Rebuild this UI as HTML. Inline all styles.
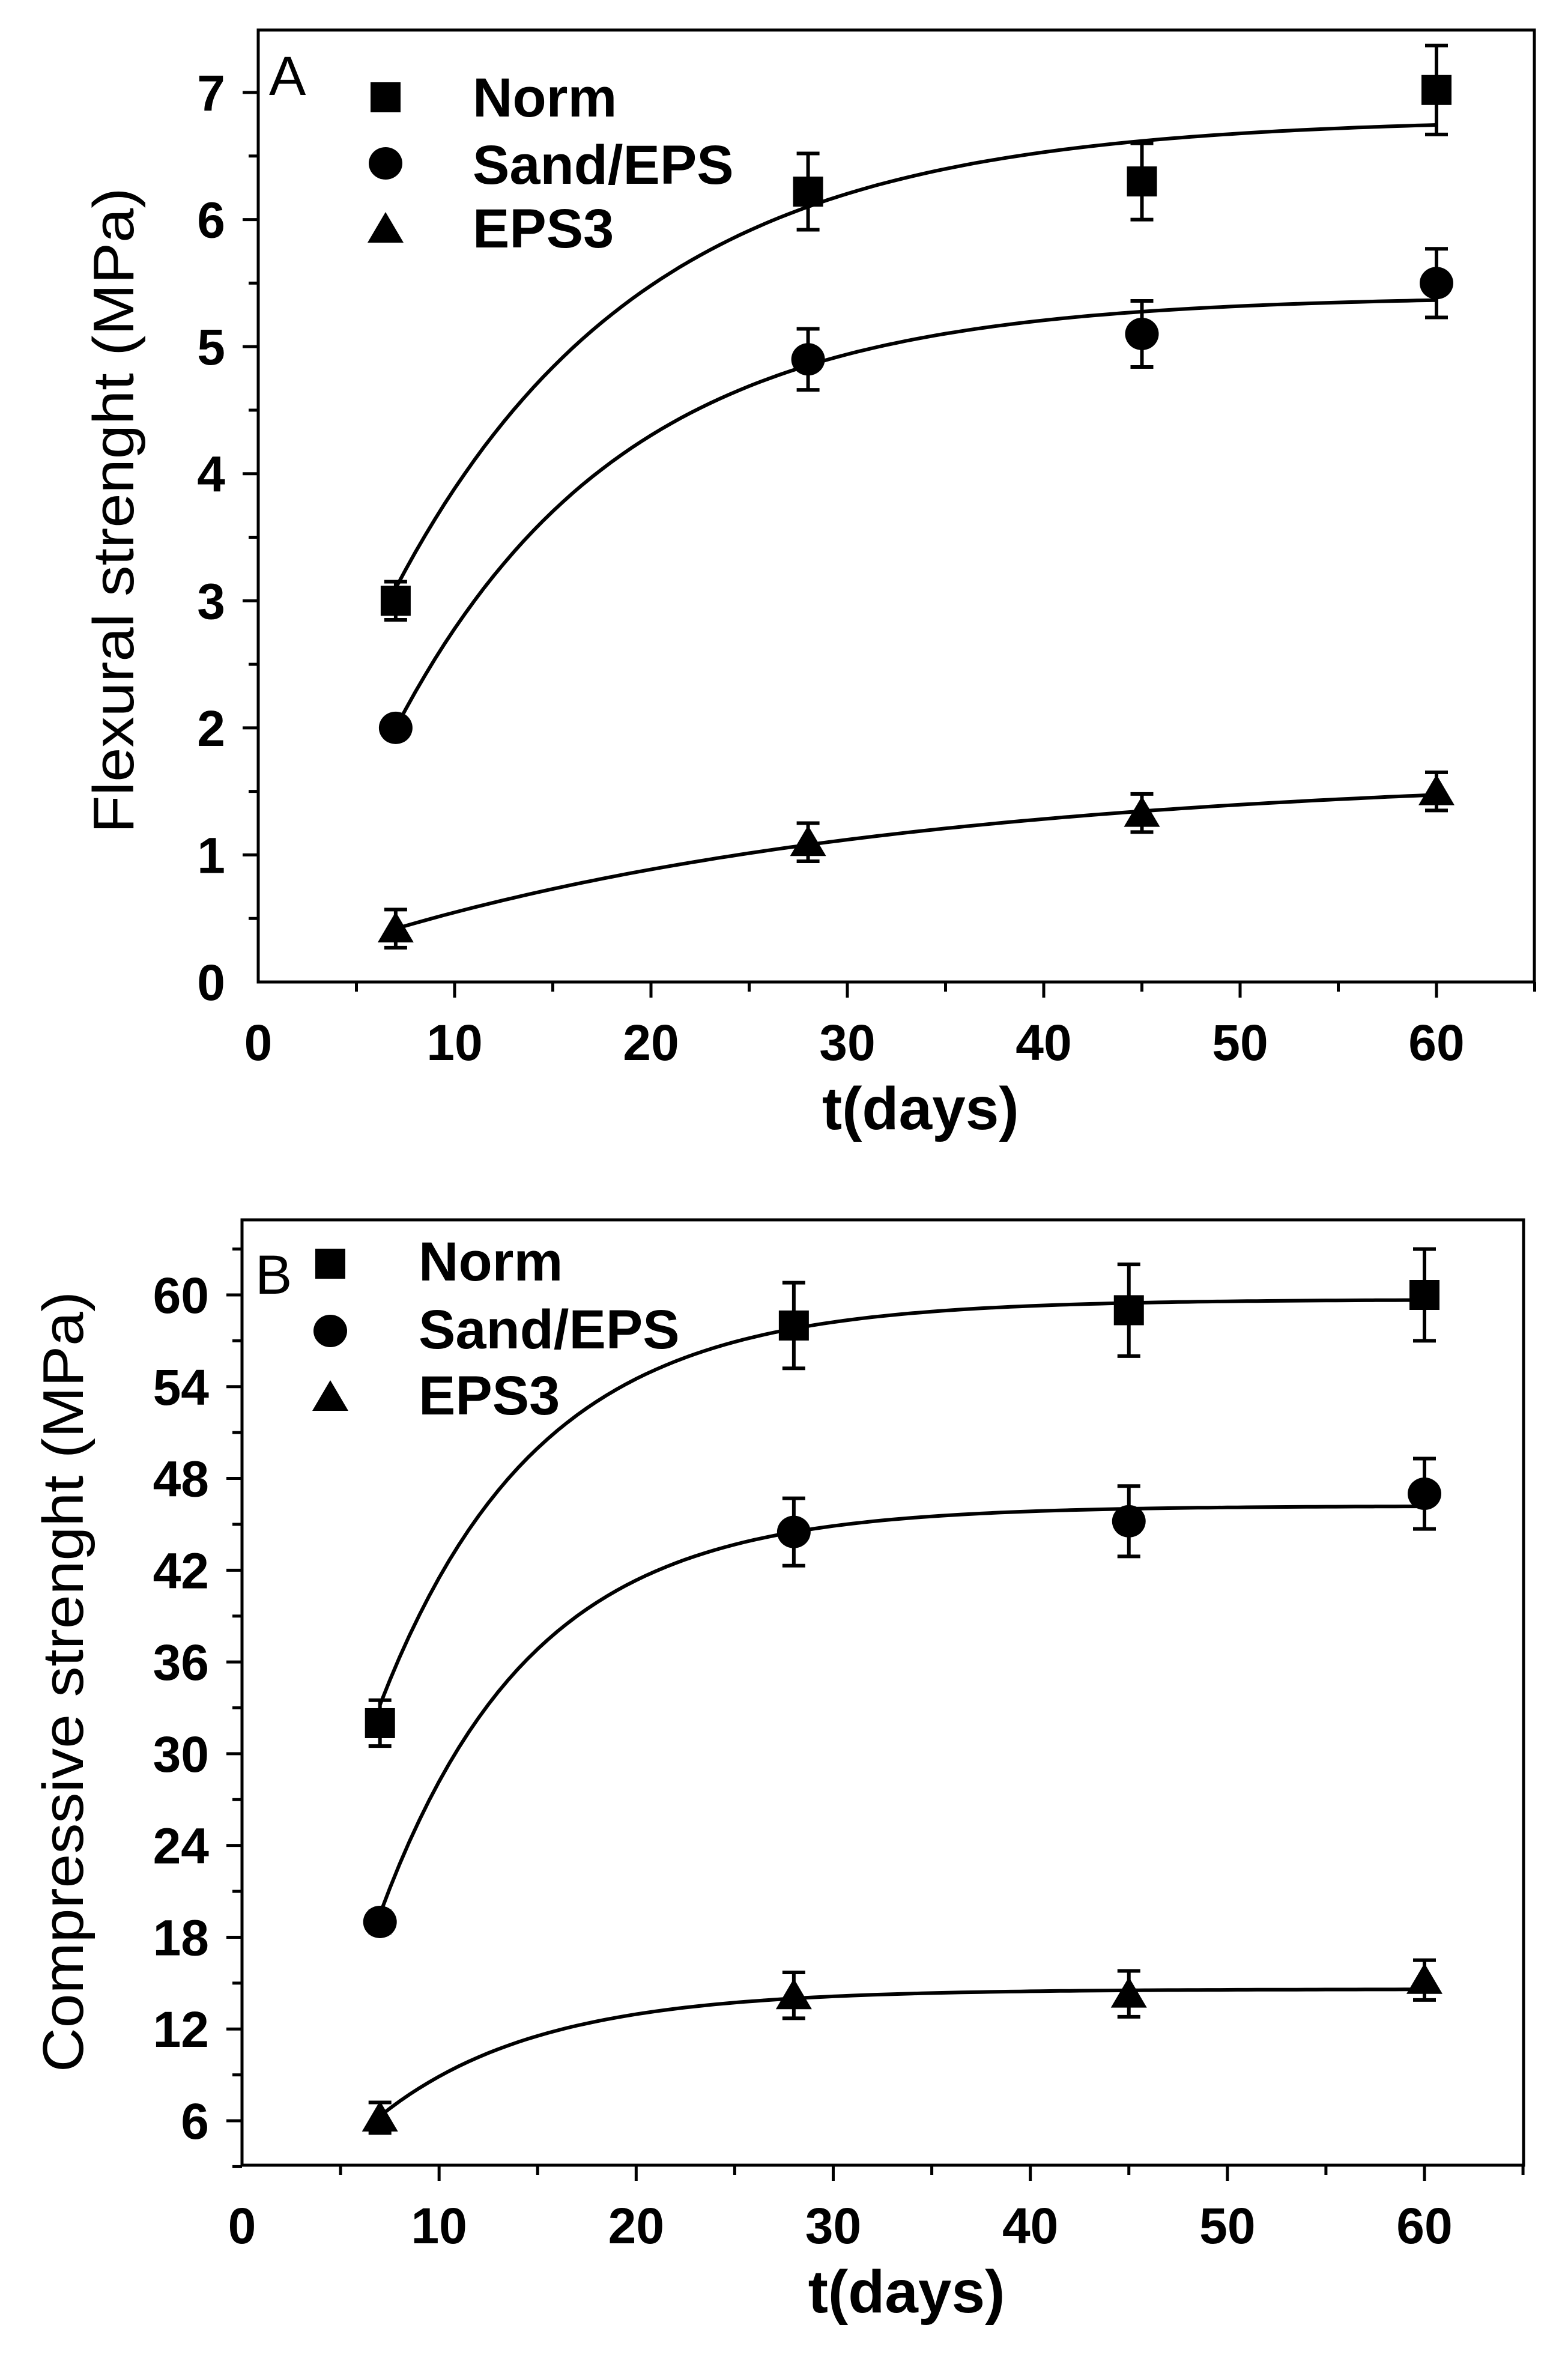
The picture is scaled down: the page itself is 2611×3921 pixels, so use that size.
<!DOCTYPE html>
<html><head><meta charset="utf-8"><style>
html,body{margin:0;padding:0;background:#fff;}
svg{display:block;font-family:"Liberation Sans",Arial,sans-serif;}
</style></head><body>
<svg id="svg" width="2611" height="3921" viewBox="0 0 2611 3921" xmlns="http://www.w3.org/2000/svg"></svg>
<script>
const NS='http://www.w3.org/2000/svg';
const days=[7,28,45,60];
const aNorm=[3.0,6.22,6.3,7.02];
const aNormErr=[0.15,0.3,0.3,0.35];
const aSand=[2.0,4.9,5.1,5.5];
const aSandErr=[0.06,0.24,0.26,0.27];
const aEps=[0.42,1.1,1.33,1.5];
const aEpsErr=[0.15,0.15,0.15,0.15];
const aFitNorm=[6.8,6.45,12.6];
const aFitSand=[5.4,6.25,11.5];
const aFitEps=[1.65,1.59,27.3];
const bNorm=[32,58,59,60];
const bNormErr=[1.5,2.8,3.0,3.0];
const bSand=[19,44.5,45.2,47];
const bSandErr=[0.7,2.2,2.3,2.3];
const bEps=[6.2,14.2,14.3,15.2];
const bEpsErr=[1.0,1.5,1.5,1.3];
const bFitNorm=[59.7,63.8,7.97];
const bFitSand=[46.2,66.8,7.63];
const bFitEps=[14.6,19.9,8.0];
const xTicks=[0,10,20,30,40,50,60];
const aYTicks=[0,1,2,3,4,5,6,7];
const bYTicks=[6,12,18,24,30,36,42,48,54,60];
const legendLabels=['Norm','Sand/EPS','EPS3'];

const svg=document.getElementById('svg');
function el(tag,attrs,parent){const e=document.createElementNS(NS,tag);for(const k in attrs)e.setAttribute(k,attrs[k]);(parent||svg).appendChild(e);return e;}

function panel(cfg){
  const g=el('g',{});
  
  
  const X=v=>cfg.x0+(v-0)*(cfg.x60-cfg.x0)/60;
  const Y=v=>cfg.yA+(v-cfg.vA)*(cfg.yB-cfg.yA)/(cfg.vB-cfg.vA);
  // frame
  const fr=el('rect',{x:cfg.L,y:cfg.T,width:cfg.R-cfg.L,height:cfg.B-cfg.T,fill:'none',stroke:'#000','stroke-width':5},g);
  
  
  // x ticks
  for(let v=5;v<=65;v+=5){
    const major=v%10===0;
    el('line',{x1:X(v),x2:X(v),y1:cfg.B,y2:cfg.B+(major?26:16),stroke:'#000','stroke-width':5},g);
  }
  xTicks.forEach(v=>{
    const t=el('text',{x:X(v),y:cfg.B+130,'font-size':84,'font-weight':'bold','text-anchor':'middle'},g);
    t.textContent=v;
    
    
  });
  // y ticks
  for(let v=cfg.minorStart;v<=cfg.ymax;v+=cfg.minor){
    const major=Math.abs(((v-cfg.ticks[0])/cfg.major)-Math.round((v-cfg.ticks[0])/cfg.major))<1e-6;
    el('line',{x1:cfg.L,x2:cfg.L-(major?26:16),y1:Y(v),y2:Y(v),stroke:'#000','stroke-width':5},g);
  }
  cfg.ticks.forEach(v=>{
    const t=el('text',{x:cfg.L-55,y:Y(v)+30,'font-size':84,'font-weight':'bold','text-anchor':'end'},g);
    t.textContent=v;
    
    
  });
  const xt=el('text',{x:(X(30)+X(35))/2+40,y:cfg.B+245,'font-size':100,'font-weight':'bold','text-anchor':'middle'},g);
  xt.textContent='t(days)';
  
  
  const yt=el('text',{transform:`translate(${cfg.ylx},${cfg.ylc}) rotate(-90)`,'font-size':96,'text-anchor':'middle',textLength:cfg.ylLen,lengthAdjust:'spacingAndGlyphs'},g);
  yt.textContent=cfg.ylabel;
  
  
  const pl=el('text',{x:cfg.letterX,y:cfg.letterY,'font-size':92},g);
  pl.textContent=cfg.letter;
  
  
  // series
  const series=[[cfg.norm,cfg.normErr,cfg.fitNorm,'square'],[cfg.sand,cfg.sandErr,cfg.fitSand,'circle'],[cfg.eps,cfg.epsErr,cfg.fitEps,'triangle']];
  series.forEach((s,si)=>{
    const [vals,errs,fit,shape]=s;
    const sg=el('g',{},g);
    
    
    let d='';
    for(let x=7;x<=60.001;x+=0.5){const y=fit[0]-fit[1]*Math.exp(-x/fit[2]);d+=(d?'L':'M')+X(x).toFixed(1)+','+Y(y).toFixed(1);}
    const c=el('path',{d:d,fill:'none',stroke:'#000','stroke-width':6},sg);
    
    
    vals.forEach((v,i)=>{
      const cx=X(days[i]),cy=Y(v),e=errs[i];
      const y1=Y(v+e),y2=Y(v-e);
      el('line',{x1:cx,x2:cx,y1:y1,y2:y2,stroke:'#000','stroke-width':6},sg);
      el('line',{x1:cx-19,x2:cx+19,y1:y1,y2:y1,stroke:'#000','stroke-width':6},sg);
      el('line',{x1:cx-19,x2:cx+19,y1:y2,y2:y2,stroke:'#000','stroke-width':6},sg);
      const m=marker(shape,cx,cy,sg);
      
      
    });
  });
  // legend
  legendLabels.forEach((lab,i)=>{
    const lg=el('g',{},g);
    
    
    marker(['square','circle','triangle'][i],cfg.legMx,cfg.legMy[i],lg);
    const t=el('text',{x:cfg.legTx,y:cfg.legTy[i],'font-size':92,'font-weight':'bold'},lg);
    t.textContent=lab;
  });
}
function marker(shape,cx,cy,p){
  if(shape==='square')return el('rect',{x:cx-25,y:cy-25,width:50,height:50,fill:'#000'},p);
  if(shape==='circle')return el('ellipse',{cx:cx,cy:cy,rx:28,ry:27,fill:'#000'},p);
  return el('polygon',{points:`${cx},${cy-28} ${cx+30},${cy+23} ${cx-30},${cy+23}`,fill:'#000'},p);
}

panel({name:'panel-a-flexural',L:430,R:2555,T:50,B:1635,x0:430,x60:2392,
  vA:0,yA:1635,vB:7,yB:154,ticks:aYTicks,major:1,minor:0.5,minorStart:0.5,ymax:7.4,
  norm:aNorm,normErr:aNormErr,sand:aSand,sandErr:aSandErr,eps:aEps,epsErr:aEpsErr,
  fitNorm:aFitNorm,fitSand:aFitSand,fitEps:aFitEps,
  ylabel:'Flexural strenght (MPa)',ylx:222,ylc:850,ylLen:1075,
  letter:'A',letterX:448,letterY:158,
  legMx:642,legMy:[162,272,381],legTx:787,legTy:[194,306,412]});
panel({name:'panel-b-compressive',L:403,R:2537,T:2031,B:3605,x0:403,x60:2372,
  vA:6,yA:3531,vB:60,yB:2156,ticks:bYTicks,major:6,minor:3,minorStart:3,ymax:64.5,
  norm:bNorm,normErr:bNormErr,sand:bSand,sandErr:bSandErr,eps:bEps,epsErr:bEpsErr,
  fitNorm:bFitNorm,fitSand:bFitSand,fitEps:bFitEps,
  ylabel:'Compressive strenght (MPa)',ylx:138,ylc:2800,ylLen:1300,
  letter:'B',letterX:425,letterY:2154,
  legMx:550,legMy:[2104,2216,2326],legTx:697,legTy:[2132,2245,2355]});
</script>
</body></html>
